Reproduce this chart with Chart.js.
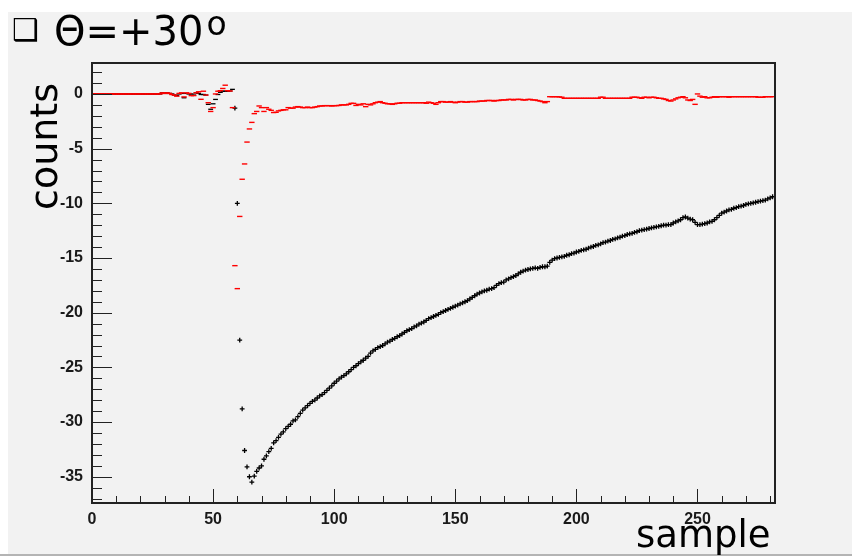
<!DOCTYPE html>
<html><head><meta charset="utf-8">
<script src="https://cdn.jsdelivr.net/npm/chart.js@4/dist/chart.umd.min.js"></script>
<style>html,body{margin:0;padding:0;background:#fff;}canvas{display:block;}</style>
</head><body>
<canvas id="c" width="852" height="558"></canvas>
<script>
// ---- data ----
const titleText = 'Θ=+30';
const titleSup = 'o';
const xAxisTitle = 'sample';
const yAxisTitle = 'counts';
const xTickLabels = [0, 50, 100, 150, 200, 250];
const yTickLabels = [0, -5, -10, -15, -20, -25, -30, -35];

const blackCounts = [
  0,0,0,0,0,0,0,0,0,0,
  0,0,0,0,0,0,0,0,0,0,
  0,0,0,0,0,0,0,0,0,0.1,
  0.05,0.1,0.05,0,-0.1,-0.15,0,0.05,-0.35,0.05,
  0,0,-0.1,0.1,0.05,-0.05,-0.05,-0.1,-0.95,-1.4,
  -0.9,-0.5,-0.05,0.15,0.25,0.25,0.25,0.27,0.42,-1.3,
  -10.0,-22.5,-28.8,-32.6,-34.1,-35.0,-35.5,-34.95,-34.5,-34.2,
  -34.0,-33.4,-33.1,-32.7,-32.4,-31.9,-31.7,-31.4,-31.1,-30.9,
  -30.6,-30.4,-30.2,-29.9,-29.8,-29.5,-29.2,-28.9,-28.7,-28.5,
  -28.3,-28.1,-28.0,-27.8,-27.6,-27.5,-27.3,-27.1,-26.9,-26.7,
  -26.45,-26.25,-26.05,-25.9,-25.75,-25.6,-25.4,-25.2,-25.0,-24.85,
  -24.65,-24.5,-24.35,-24.15,-24.0,-23.7,-23.5,-23.35,-23.2,-23.1,
  -23.0,-22.85,-22.7,-22.6,-22.45,-22.35,-22.2,-22.1,-21.95,-21.8,
  -21.65,-21.55,-21.45,-21.3,-21.2,-21.05,-20.95,-20.85,-20.7,-20.55,
  -20.45,-20.35,-20.25,-20.15,-20.0,-19.9,-19.8,-19.7,-19.6,-19.5,
  -19.4,-19.3,-19.2,-19.1,-19.0,-18.9,-18.75,-18.6,-18.45,-18.3,
  -18.2,-18.1,-18.0,-17.95,-17.85,-17.8,-17.7,-17.5,-17.35,-17.25,
  -17.2,-17.0,-16.9,-16.8,-16.7,-16.6,-16.45,-16.3,-16.2,-16.1,
  -16.05,-16.0,-15.95,-15.9,-15.95,-15.85,-15.8,-15.8,-15.75,-15.4,
  -15.2,-15.05,-15.0,-14.95,-14.9,-14.85,-14.75,-14.7,-14.6,-14.55,
  -14.45,-14.4,-14.3,-14.25,-14.2,-14.1,-14.0,-13.95,-13.85,-13.8,
  -13.7,-13.6,-13.55,-13.45,-13.4,-13.3,-13.25,-13.15,-13.1,-13.0,
  -12.95,-12.85,-12.8,-12.75,-12.65,-12.6,-12.5,-12.45,-12.4,-12.35,
  -12.3,-12.25,-12.2,-12.15,-12.1,-12.05,-12.0,-12.0,-11.95,-11.95,
  -11.8,-11.7,-11.6,-11.5,-11.3,-11.25,-11.35,-11.45,-11.5,-11.75,
  -11.95,-11.95,-11.9,-11.85,-11.8,-11.7,-11.65,-11.5,-11.3,-11.1,
  -10.9,-10.8,-10.7,-10.6,-10.55,-10.45,-10.4,-10.3,-10.25,-10.2,
  -10.1,-10.05,-10.0,-9.95,-9.9,-9.85,-9.8,-9.75,-9.7,-9.6,
  -9.5,-9.4
];

const redCounts = [
  0,0,0,0,0,0,0,0,0,0,
  0,0,0,0,0,0,0,0,0,0,
  0,0,0,0,0,0,0,0,0,0.1,
  0.05,0.1,0.05,-0.05,-0.1,-0.2,0.05,0.1,-0.27,0.1,
  0.05,-0.15,-0.15,0.1,0.2,-0.49,0.25,-0.1,-0.8,-1.6,
  -1.25,0.0,0.25,0.3,0.5,0.8,0.3,0.27,-1.25,-15.7,
  -17.8,-11.2,-7.8,-6.4,-4.4,-3.2,-2.6,-1.8,-1.6,-1.1,
  -1.25,-1.6,-1.25,-1.4,-1.5,-1.7,-1.68,-1.55,-1.5,-1.45,
  -1.45,-1.25,-1.3,-1.3,-1.2,-1.16,-1.2,-1.25,-1.25,-1.2,
  -1.25,-1.25,-1.2,-1.16,-1.1,-1.1,-1.07,-1.07,-1.07,-1.1,
  -1.07,-1.07,-1.05,-1.0,-1.0,-1.0,-0.95,-0.86,-0.86,-1.05,
  -0.95,-1.0,-0.9,-1.16,-0.95,-1.0,-0.9,-0.8,-0.75,-0.7,
  -0.8,-0.85,-0.9,-0.9,-0.95,-0.9,-0.85,-0.85,-0.8,-0.8,
  -0.8,-0.8,-0.8,-0.8,-0.8,-0.8,-0.8,-0.8,-0.85,-0.75,
  -0.8,-0.85,-0.95,-0.8,-0.7,-0.7,-0.75,-0.75,-0.7,-0.75,
  -0.8,-0.75,-0.7,-0.7,-0.75,-0.75,-0.7,-0.7,-0.7,-0.7,
  -0.65,-0.65,-0.65,-0.6,-0.6,-0.6,-0.65,-0.6,-0.6,-0.55,
  -0.55,-0.55,-0.5,-0.5,-0.55,-0.5,-0.5,-0.5,-0.55,-0.55,
  -0.5,-0.5,-0.55,-0.55,-0.6,-0.65,-0.7,-0.8,-0.7,-0.25,
  -0.25,-0.25,-0.25,-0.27,-0.3,-0.4,-0.4,-0.4,-0.4,-0.4,
  -0.4,-0.4,-0.4,-0.4,-0.4,-0.4,-0.4,-0.4,-0.4,-0.4,
  -0.3,-0.3,-0.4,-0.4,-0.4,-0.4,-0.4,-0.4,-0.4,-0.4,
  -0.4,-0.4,-0.4,-0.3,-0.3,-0.3,-0.35,-0.4,-0.3,-0.3,
  -0.35,-0.3,-0.3,-0.35,-0.4,-0.4,-0.45,-0.5,-0.6,-0.65,
  -0.55,-0.45,-0.35,-0.3,-0.25,-0.35,-0.55,-0.6,-0.5,-0.95,
  0.0,-0.2,-0.3,-0.25,-0.35,-0.35,-0.3,-0.25,-0.3,-0.25,
  -0.25,-0.25,-0.25,-0.3,-0.25,-0.25,-0.25,-0.25,-0.25,-0.25,
  -0.25,-0.25,-0.25,-0.25,-0.25,-0.3,-0.3,-0.3,-0.25,-0.25,
  -0.25,-0.25
];

const samples = Array.from({length: blackCounts.length}, (_, i) => i);

// ---- chart ----
const X_MIN = 0, X_MAX = 282, Y_MIN = -37.4, Y_MAX = 2.83;
const TICK_FONT = {family: '"Liberation Sans", Arial, sans-serif', size: 16, weight: 'bold'};
const HAND_FONT = '"Comic Sans MS", "DejaVu Sans", sans-serif';

const decor = {
  id: 'decor',
  beforeDraw(chart) {
    const ctx = chart.ctx;
    ctx.save();
    ctx.fillStyle = '#ffffff';
    ctx.fillRect(0, 0, chart.width, chart.height);
    ctx.fillStyle = '#f2f2f2';
    ctx.fillRect(8, 12, chart.width - 8, 542);
    ctx.fillStyle = '#b4b4b4';
    ctx.fillRect(0, 554, chart.width, 2);
    ctx.restore();
  },
  afterDatasetsDraw(chart) {
    const ctx = chart.ctx;
    const xs = chart.scales.x, ys = chart.scales.y;
    const a = chart.chartArea;
    ctx.save();
    ctx.strokeStyle = '#222';
    ctx.lineWidth = 1;
    ctx.beginPath();
    for (let v = 0; v <= 280; v += 10) {
      const px = Math.round(xs.getPixelForValue(v)) + 0.5;
      const len = (v % 50 === 0) ? 14 : 7;
      ctx.moveTo(px, a.bottom);
      ctx.lineTo(px, a.bottom - len);
    }
    for (let v = -37; v <= 2; v += 1) {
      const py = Math.round(ys.getPixelForValue(v)) + 0.5;
      const len = (v % 5 === 0) ? 20 : 10;
      ctx.moveTo(a.left, py);
      ctx.lineTo(a.left + len, py);
    }
    ctx.stroke();
    ctx.lineWidth = 2;
    ctx.strokeRect(a.left, a.top, a.right - a.left, a.bottom - a.top);
    ctx.restore();
  },
  afterDraw(chart) {
    const ctx = chart.ctx;
    ctx.save();
    ctx.fillStyle = '#000';
    ctx.textBaseline = 'alphabetic';
    ctx.textAlign = 'left';
    ctx.font = '30px "DejaVu Sans", sans-serif';
    ctx.fillText('❑', 12, 40);
    ctx.font = '40px ' + HAND_FONT;
    ctx.fillText(titleText, 54, 45);
    const w = ctx.measureText(titleText).width;
    ctx.font = '33px ' + HAND_FONT;
    ctx.fillText(titleSup, 54 + w + 3, 35);
    ctx.font = '38px ' + HAND_FONT;
    ctx.translate(57, 210);
    ctx.rotate(-Math.PI / 2);
    ctx.fillText(yAxisTitle, 0, 0);
    ctx.setTransform(1, 0, 0, 1, 0, 0);
    ctx.font = '37px ' + HAND_FONT;
    ctx.fillText(xAxisTitle, 636, 547);
    ctx.restore();
  }
};

new Chart(document.getElementById('c'), {
  type: 'scatter',
  data: {
    datasets: [
      {
        label: 'red',
        data: redCounts.map((v, i) => ({x: samples[i], y: v})),
        showLine: false,
        pointStyle: 'line',
        pointRadius: 2.7,
        pointBorderWidth: 1.4,
        borderColor: '#ff0000',
        backgroundColor: '#ff0000',
        order: 0
      },
      {
        label: 'black',
        data: blackCounts.map((v, i) => ({x: samples[i], y: v})),
        showLine: false,
        pointStyle: c => (c.dataIndex < 59 ? 'line' : 'cross'),
        pointRadius: 2.4,
        pointBorderWidth: 1.3,
        borderColor: '#000000',
        backgroundColor: '#000000',
        order: 1
      }
    ]
  },
  options: {
    responsive: false,
    devicePixelRatio: 1,
    animation: false,
    events: [],
    layout: {padding: {top: 63, right: 77, left: 0, bottom: 0}},
    plugins: {legend: {display: false}, tooltip: {enabled: false}, title: {display: false}},
    scales: {
      x: {
        type: 'linear', min: X_MIN, max: X_MAX,
        afterBuildTicks: s => { s.ticks = xTickLabels.map(v => ({value: v})); },
        afterFit: s => { s.height = 55; },
        grid: {display: false, drawTicks: false},
        border: {display: false},
        ticks: {font: TICK_FONT, color: '#1a1a1a', padding: 7, maxRotation: 0, autoSkip: false}
      },
      y: {
        type: 'linear', min: Y_MIN, max: Y_MAX,
        afterBuildTicks: s => { s.ticks = yTickLabels.map(v => ({value: v})); },
        afterFit: s => { s.width = 92; },
        grid: {display: false, drawTicks: false},
        border: {display: false},
        ticks: {font: TICK_FONT, color: '#1a1a1a', padding: 9, autoSkip: false}
      }
    }
  },
  plugins: [decor]
});
</script>
</body></html>
